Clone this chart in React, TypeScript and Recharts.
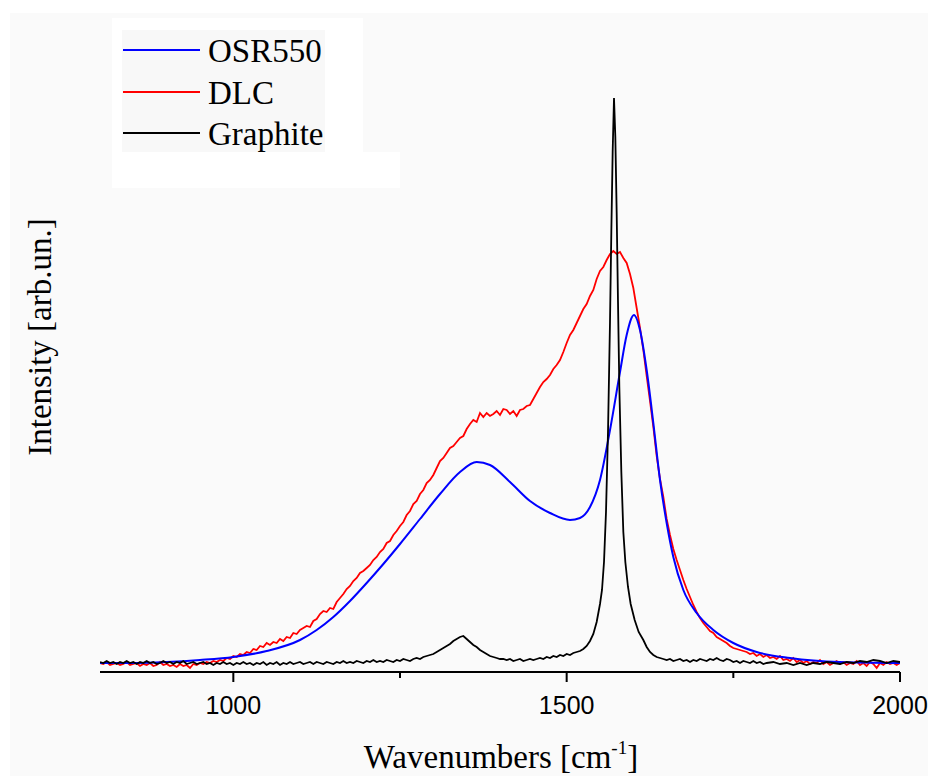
import { LineChart, Line, XAxis, YAxis, Legend } from 'recharts';

// DLC spectrum, sampled every 5 cm-1 from 800 to 2000
const DLC_START = 800;
const DLC_STEP = 5;
const dlcIntensity = [
  9, 8, 10, 7, 8, 9, 7, 8, 10, 7,
  8, 9, 6, 8, 7, 9, 6, 7, 10, 7,
  8, 6, 7, 5, 8, 6, 7, 4, 8, 7,
  9, 8, 10, 9, 11, 10, 12, 11, 14, 13,
  16, 15, 18, 17, 20, 19, 23, 22, 26, 25,
  29, 27, 30, 29, 33, 31, 35, 34, 39, 38,
  42, 44, 46, 45, 51, 53, 58, 61, 60, 64,
  63, 70, 74, 78, 83, 86, 91, 94, 99, 101,
  104, 107, 112, 115, 120, 123, 129, 131, 137, 141,
  146, 150, 157, 161, 168, 171, 178, 182, 189, 192,
  197, 204, 211, 214, 219, 224, 226, 230, 234, 236,
  243, 248, 252, 250, 259, 255, 259, 256, 258, 261,
  257, 263, 262, 258, 261, 256, 262, 263, 266, 267,
  273, 279, 285, 290, 293, 297, 303, 307, 312, 320,
  329, 337, 342, 349, 356, 363, 368, 376, 382, 393,
  401, 405, 412, 418, 421, 418, 420, 414, 409, 398,
  384, 364, 344, 322, 296, 271, 245, 216, 193, 175,
  153, 137, 123, 112, 102, 92, 83, 75, 67, 60,
  54, 49, 45, 41, 39, 35, 33, 31, 29, 26,
  24, 23, 22, 21, 20, 18, 19, 16, 18, 15,
  17, 14, 15, 13, 16, 12, 13, 11, 14, 10,
  12, 9, 11, 8, 10, 9, 12, 8, 10, 7,
  9, 11, 8, 10, 7, 9, 8, 11, 7, 9,
  6, 10, 8, 4, 9, 7, 10, 8, 9, 7,
  9,
];

// OSR550 fit (smooth)
const osrWavenumbers = [
  800, 850, 900, 950, 1000, 1050, 1100, 1125, 1150, 1175, 1200, 1225, 1250, 1280, 1310, 1340, 1365,
  1385, 1415, 1445, 1475, 1505, 1520, 1535, 1550, 1565, 1580, 1590, 1601, 1610,
  1620, 1630, 1640, 1650, 1660, 1675, 1695, 1720, 1750, 1785, 1835, 1910, 2000,
];
const osrIntensity = [
  9, 9, 10, 12, 15, 21, 32, 42, 55, 71, 89, 108, 128, 153, 178, 200, 210,
  207, 190, 171, 159, 152, 154, 165, 192, 242, 300, 337, 357, 342,
  302, 249, 192, 149, 115, 82, 59, 42, 29, 20, 14, 10, 9,
];

// Graphite spectrum
const graphiteWavenumbers = [
  800, 805, 810, 815, 820, 825, 830, 835, 840, 845, 850, 855, 860, 865, 870, 875, 880, 885, 890, 895,
  900, 905, 910, 915, 920, 925, 930, 935, 940, 945, 950, 955, 960, 965, 970, 975, 980, 985, 990, 995,
  1000, 1005, 1010, 1015, 1020, 1025, 1030, 1035, 1040, 1045, 1050, 1055, 1060, 1065, 1070, 1075, 1080, 1085, 1090, 1095,
  1100, 1105, 1110, 1115, 1120, 1125, 1130, 1135, 1140, 1145, 1150, 1155, 1160, 1165, 1170, 1175, 1180, 1185, 1190, 1195,
  1200, 1205, 1210, 1215, 1220, 1225, 1230, 1235, 1240, 1245, 1250, 1255, 1260, 1265, 1270, 1275, 1280, 1285, 1290, 1295,
  1300, 1305, 1310, 1315, 1320, 1325, 1330, 1335, 1340, 1345, 1350, 1355, 1360, 1365, 1370, 1375, 1380, 1385, 1390, 1395,
  1400, 1405, 1410, 1415, 1420, 1425, 1430, 1435, 1440, 1445, 1450, 1455, 1460, 1465, 1470, 1475, 1480, 1485, 1490, 1495,
  1500, 1505, 1510, 1515, 1520, 1525, 1530, 1535, 1540, 1545, 1550, 1553, 1556, 1559, 1562, 1565, 1567, 1569, 1571, 1573,
  1575, 1577, 1579, 1582, 1585, 1588, 1592, 1596, 1602, 1608, 1615, 1620, 1625, 1630, 1635, 1640, 1645, 1650, 1655, 1660,
  1665, 1670, 1675, 1680, 1685, 1690, 1695, 1700, 1705, 1710, 1715, 1720, 1725, 1730, 1735, 1740, 1745, 1750, 1755, 1760,
  1765, 1770, 1775, 1780, 1785, 1790, 1795, 1800, 1810, 1820, 1830, 1840, 1850, 1860, 1870, 1880, 1890, 1900, 1910, 1920,
  1930, 1940, 1950, 1960, 1970, 1980, 1990, 2000,
];
const graphiteIntensity = [
  10, 9, 11, 9, 10, 8, 10, 9, 11, 9, 10, 8, 10, 9, 11, 9, 10, 8, 9, 11,
  9, 10, 8, 10, 9, 11, 8, 9, 10, 8, 9, 10, 8, 9, 7, 9, 8, 10, 8, 9,
  7, 9, 8, 10, 8, 9, 7, 9, 8, 10, 7, 9, 8, 10, 7, 9, 8, 10, 8, 9,
  10, 8, 9, 10, 8, 10, 9, 8, 10, 9, 8, 10, 9, 11, 9, 10, 9, 11, 10, 9,
  11, 10, 12, 10, 11, 10, 12, 11, 10, 12, 11, 13, 12, 11, 13, 14, 13, 15, 16, 17,
  18, 20, 22, 24, 26, 28, 31, 33, 35, 36, 33, 30, 27, 25, 22, 20, 18, 16, 15, 14,
  13, 13, 12, 13, 11, 12, 13, 11, 12, 13, 12, 13, 14, 13, 15, 14, 16, 15, 17, 16,
  18, 17, 19, 20, 21, 23, 26, 31, 38, 50, 68, 82, 110, 160, 240, 350, 440, 520, 574, 535,
  460, 370, 285, 200, 140, 110, 85, 68, 52, 40, 32, 25, 20, 17, 15, 14, 13, 12, 13, 11,
  12, 13, 11, 12, 10, 12, 11, 13, 12, 11, 13, 12, 14, 12, 11, 13, 12, 10, 11, 9,
  11, 10, 9, 11, 9, 10, 8, 9, 10, 8, 9, 7, 9, 7, 9, 8, 10, 9, 8, 10,
  9, 11, 10, 12, 11, 9, 11, 10,
];

const xTicks = [1000, 1250, 1500, 1750, 2000];
const labeledTicks = [1000, 1500, 2000];

const dlcData = dlcIntensity.map((v, i) => ({ w: DLC_START + i * DLC_STEP, v }));
const osrData = osrWavenumbers.map((w, i) => ({ w, v: osrIntensity[i] }));
const graphiteData = graphiteWavenumbers.map((w, i) => ({ w, v: graphiteIntensity[i] }));

const series = [
  { name: 'OSR550', color: '#0000ff' },
  { name: 'DLC', color: '#ff0000' },
  { name: 'Graphite', color: '#000000' },
];

const serif = '"Liberation Serif", "Times New Roman", serif';
const sans = '"Liberation Sans", Arial, sans-serif';

const WaveTick = ({ x, y, payload }: any) => {
  const major = labeledTicks.includes(payload.value);
  return (
    <g>
      <line x1={x} x2={x} y1={y} y2={y + (major ? 10 : 6)} stroke="#000" strokeWidth={2} />
      {major && (
        <text x={x} y={y + 42} textAnchor="middle" fontSize={25} fontFamily={sans} fill="#000">
          {payload.value}
        </text>
      )}
    </g>
  );
};

const renderLegend = () => (
  <div style={{ position: 'relative', width: 288, height: 170 }}>
    <div style={{ position: 'absolute', left: 0, top: 0, width: 251, height: 170, background: '#fff' }} />
    <div style={{ position: 'absolute', left: 251, top: 134, width: 37, height: 36, background: '#fff' }} />
    <div style={{ position: 'absolute', left: 10, top: 12, width: 203, height: 122, background: '#f8f8f8' }} />
    {series.map((s, i) => (
      <div
        key={s.name}
        style={{ position: 'absolute', left: 0, top: 13 + i * 41.5, height: 40, width: 280 }}
      >
        <div style={{ position: 'absolute', left: 11, top: 18, width: 77, height: 2, background: s.color }} />
        <div
          style={{
            position: 'absolute',
            left: 96,
            top: 0,
            fontFamily: serif,
            fontSize: 33,
            lineHeight: '40px',
            color: '#000',
            whiteSpace: 'nowrap',
          }}
        >
          {s.name}
        </div>
      </div>
    ))}
  </div>
);

const App = () => {
  return (
    <div style={{ position: 'fixed', left: 0, top: 0, width: 928, height: 776, background: '#fff', overflow: 'hidden' }}>
      <div style={{ position: 'absolute', left: 10, top: 13, right: 0, bottom: 0, background: '#fafafa' }} />
      <LineChart
        width={928}
        height={776}
        margin={{ top: 27, right: 28, bottom: 74, left: 100 }}
        style={{ position: 'absolute', left: 0, top: 0 }}
      >
        <XAxis
          type="number"
          dataKey="w"
          domain={[800, 2000]}
          allowDataOverflow
          ticks={xTicks}
          interval={0}
          height={30}
          tickSize={0}
          tickMargin={0}
          tickLine={false}
          axisLine={{ stroke: '#000', strokeWidth: 2 }}
          tick={(p: any) => <WaveTick {...p} />}
        />
        <YAxis
          type="number"
          domain={[0, 645]}
          allowDataOverflow
          width={0}
          tick={false}
          tickLine={false}
          axisLine={{ stroke: '#000', strokeWidth: 2 }}
        />
        <Legend
          layout="horizontal"
          verticalAlign="middle"
          align="center"
          wrapperStyle={{ left: 112, top: 18, width: 288, height: 170 }}
          content={renderLegend}
        />
        <Line
          data={dlcData}
          dataKey="v"
          name="DLC"
          type="linear"
          stroke="#ff0000"
          strokeWidth={1.8}
          dot={false}
          isAnimationActive={false}
        />
        <Line
          data={osrData}
          dataKey="v"
          name="OSR550"
          type="monotone"
          stroke="#0000ff"
          strokeWidth={2}
          dot={false}
          isAnimationActive={false}
        />
        <Line
          data={graphiteData}
          dataKey="v"
          name="Graphite"
          type="linear"
          stroke="#000000"
          strokeWidth={1.8}
          dot={false}
          isAnimationActive={false}
        />
      </LineChart>
      <div
        style={{
          position: 'absolute',
          left: 40 - 150,
          top: 337 - 20,
          width: 300,
          height: 40,
          lineHeight: '40px',
          textAlign: 'center',
          fontFamily: serif,
          fontSize: 33,
          color: '#000',
          transform: 'rotate(-90deg)',
          whiteSpace: 'nowrap',
        }}
      >
        Intensity [arb.un.]
      </div>
      <div
        style={{
          position: 'absolute',
          left: 501 - 200,
          top: 737,
          width: 400,
          height: 40,
          lineHeight: '40px',
          textAlign: 'center',
          fontFamily: serif,
          fontSize: 33,
          color: '#000',
          whiteSpace: 'nowrap',
        }}
      >
        Wavenumbers [cm<sup style={{ fontSize: 19, lineHeight: 0, verticalAlign: '0.75em' }}>-1</sup>]
      </div>
    </div>
  );
};

export default App;
